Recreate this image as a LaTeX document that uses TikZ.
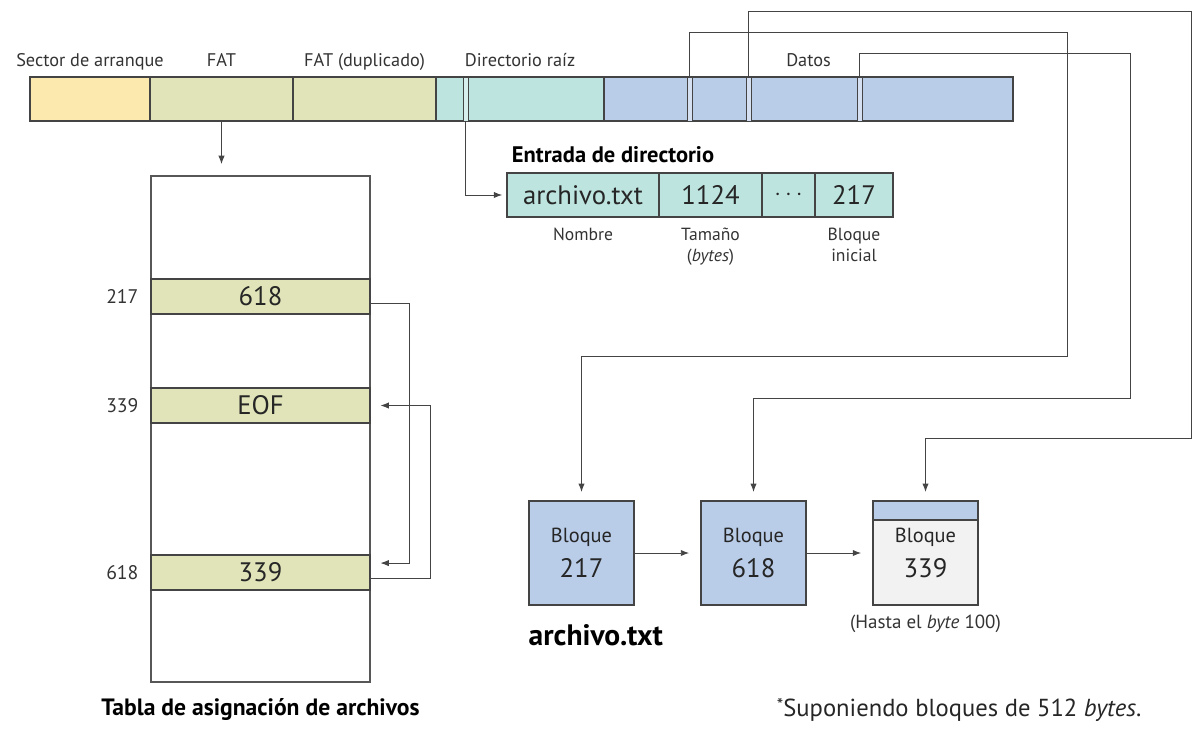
\documentclass[tikz,border=0pt]{standalone}
\usepackage{fontspec}
\setmainfont{PT Sans}
\usepackage{xcolor}
\usetikzlibrary{arrows.meta, positioning, calc, fit}

\definecolor{arranque}{HTML}{FCE9AE}
\definecolor{fatcol}{HTML}{E0E4B8}
\definecolor{dircol}{HTML}{BDE4DF}
\definecolor{datcol}{HTML}{B9CDE9}
\definecolor{ultcol}{HTML}{F2F2F2}
\definecolor{linea}{HTML}{444444}

\tikzset{
  seg/.style={draw=linea, line width=0.8pt, inner sep=0pt},
  slot/.style={draw=linea, line width=0.6pt, inner sep=0pt},
  campo/.style={draw=linea, line width=0.8pt, fill=dircol, inner sep=0pt},
  fila/.style={draw=linea, line width=0.8pt, fill=fatcol, inner sep=0pt},
  bloque/.style={draw=linea, line width=0.8pt, inner sep=0pt},
  dentro/.style={font=\fontsize{19}{22}\selectfont, text=black!85},
  dentrob/.style={align=center, font=\fontsize{14.5}{25}\selectfont, text=black!85},
  arr/.style={draw=linea, line width=0.7pt, -{Latex[length=6pt,width=4.5pt]}},
  etiq/.style={font=\fontsize{13}{15}\selectfont, text=black!80},
  rotulo/.style={font=\fontsize{14}{17}\selectfont, text=black!80},
  pie/.style={font=\fontsize{12.5}{15}\selectfont, text=black!80, align=center},
  titulo/.style={font=\bfseries\fontsize{16}{19}\selectfont},
}

\begin{document}
\begin{tikzpicture}[x=0.025cm, y=-0.025cm]
  \useasboundingbox (0,0) rectangle (1200,741);

  % ----- Volume layout (top bar) -----
  \node[seg, fill=arranque, fit={(30,77) (150,121)}] (arranque) {};
  \node[seg, fill=fatcol, fit={(150,77) (293,121)}] (fat) {};
  \node[seg, fill=fatcol, fit={(293,77) (436,121)}] (fatdup) {};
  \node[seg, fill=dircol, fit={(436,77) (604,121)}] (raiz) {};
  \node[seg, fill=datcol, fit={(604,77) (1013,121)}] (datos) {};

  % entries inside the root directory and the data area
  \node[slot, fill=dircol!60!white, fit={(463,77) (468,121)}] (dirslot) {};
  \node[slot, fill=datcol!60!white, fit={(687,77) (692,121)}] (slotA) {};
  \node[slot, fill=datcol!60!white, fit={(746,77) (751,121)}] (slotC) {};
  \node[slot, fill=datcol!60!white, fit={(857,77) (862,121)}] (slotB) {};

  % Labels over the bar
  \node[etiq, anchor=base] at ($(arranque.north)+(0,-10)$) {Sector de arranque};
  \node[etiq, anchor=base] at ($(fat.north)+(0,-10)$) {FAT};
  \node[etiq, anchor=base] at ($(fatdup.north)+(0,-10)$) {FAT (duplicado)};
  \node[etiq, anchor=base] at ($(raiz.north)+(0,-10)$) {Directorio raíz};
  \node[etiq, anchor=base] at ($(datos.north)+(0,-10)$) {Datos};

  % ----- Directory entry -----
  \node[campo, fit={(507,173) (659,217)}, label={[dentro]center:archivo.txt}] (nombre) {};
  \node[campo, fit={(659,173) (762,217)}, label={[dentro]center:1124}] (tamano) {};
  \node[campo, fit={(762,173) (815,217)}, label={[dentro]center:$\cdots$}] (resto) {};
  \node[campo, fit={(815,173) (893,217)}, label={[dentro]center:217}] (inicio) {};
  \node[titulo, anchor=base west] at (507,163) {Entrada de directorio};

  \node[pie, below=4pt of nombre] {Nombre};
  \node[pie, below=4pt of tamano] {Tamaño\\(\textit{bytes})};
  \node[pie, below=4pt of inicio] {Bloque\\inicial};

  \draw[arr, shorten >=3pt] (dirslot.south) |- (nombre.west);

  % ----- File allocation table -----
  \node[seg, draw=linea!90, fit={(151,176) (370,682)}] (tabla) {};
  \node[fila, fit={(151,279) (370,314)}, label={[dentro]center:618}] (r217) {};
  \node[fila, fit={(151,388) (370,423)}, label={[dentro]center:EOF}] (r339) {};
  \node[fila, fit={(151,555) (370,590)}, label={[dentro]center:339}] (r618) {};

  \node[rotulo, left=5pt of r217.west] (n217) {217};
  \node[rotulo, left=5pt of r339.west] (n339) {339};
  \node[rotulo, left=5pt of r618.west] (n618) {618};

  \node[titulo, font=\bfseries\fontsize{16.8}{19}\selectfont, below=8pt of tabla] (captabla) {Tabla de asignación de archivos};

  \draw[arr, shorten >=8pt] (fat.south) -- (fat.south |- tabla.north);

  % chain through the table
  \draw[arr, shorten >=7pt] ([yshift=-5.3pt]r217.east) -- ++(39,0) |- ([yshift=6.7pt]r618.east);
  \draw[arr, shorten >=7pt] ([yshift=-4pt]r618.east) -- ++(60,0) |- (r339.east);

  % ----- Data blocks -----
  \node[bloque, fill=datcol, fit={(529,501) (634,605)}, label={[dentrob]center:Bloque\\{\fontsize{19}{25}\selectfont 217}}] (b217) {};
  \node[bloque, fill=datcol, fit={(701,501) (806,605)}, label={[dentrob]center:Bloque\\{\fontsize{19}{25}\selectfont 618}}] (b618) {};
  \node[bloque, fill=ultcol, fit={(873,501) (978,605)}] (b339) {};
  \node[seg, fill=datcol, fit={(873,501) (978,520)}] (cab339) {};
  \node[dentrob] at (b339.center) (t339) {Bloque\\{\fontsize{19}{25}\selectfont 339}};

  \draw[arr, shorten >=8pt] (b217) -- (b618);
  \draw[arr, shorten >=8pt] (b618) -- (b339);

  \node[font=\bfseries\fontsize{21}{25}\selectfont, inner sep=0pt, below right=13pt and 0pt of b217.south west] (nomarch) {archivo.txt};
  \node[pie, font=\fontsize{13.5}{16}\selectfont, below=3pt of b339] (hasta) {(Hasta el \textit{byte} 100)};

  % ----- Pointers from the data area -----
  \draw[arr, shorten >=6pt] (slotA.north) -- ++(0,-44) -| (1067,356) -| (b217.north);
  \draw[arr, shorten >=6pt] (slotB.north) -- ++(0,-23) -| (1130,398) -| (b618.north);
  \draw[arr, shorten >=6pt] (slotC.north) -- ++(0,-65) -| (1191,438) -| (b339.north);

  % footnote
  \node[font=\fontsize{17.5}{20}\selectfont, text=black!85, anchor=west] (nota) at (772,710) {\raisebox{0.35ex}{\fontsize{13}{13}\selectfont *}Suponiendo bloques de 512 \textit{bytes}.};

\end{tikzpicture}
\end{document}
